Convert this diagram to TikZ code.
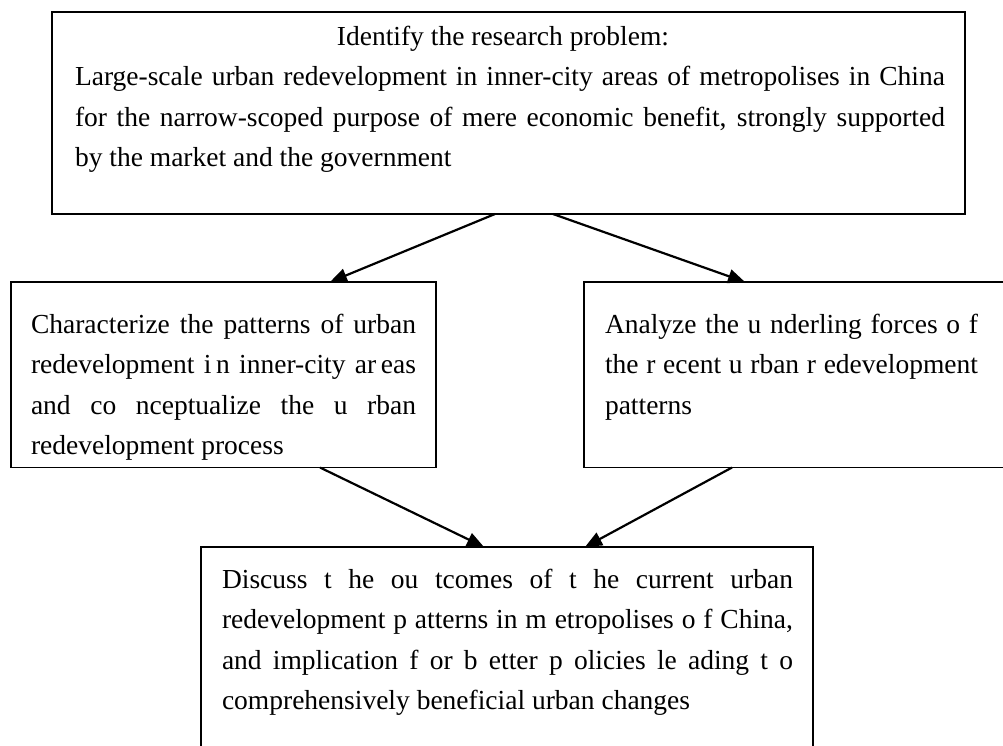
\documentclass[tikz,border=0pt]{standalone}
\usepackage{fontspec}
\setmainfont{Liberation Serif}
\usetikzlibrary{arrows.meta}
\begin{document}
\begin{tikzpicture}[x=1pt,y=-1pt,
  frame/.style={draw, line width=1.8pt, inner sep=0pt, outer sep=0pt, anchor=north west},
  txt/.style={anchor=north west, inner sep=0pt, outer sep=0pt, align=justify,
    font=\fontsize{27.5pt}{40.5pt}\selectfont},
  arr/.style={line width=2.2pt, -{Triangle[length=17pt,width=14pt]}}]
\useasboundingbox (0,0) rectangle (1003,745);
\clip (0,0) rectangle (1003,745);
% boxes
\node[frame, minimum width=913pt, minimum height=202pt] (top) at (52,12) {};
\node[frame, minimum width=425pt, minimum height=185.5pt] (left) at (11,282) {};
\node[frame, minimum width=440pt, minimum height=185.5pt] (right) at (584,282) {};
\node[frame, minimum width=612pt, minimum height=230pt] (bot) at (201,547) {};
% texts
\node[txt, text width=870pt] (toptext) at (75,15)
  {\rule{0pt}{30pt}\hspace*{\fill}Identify the research problem:\hspace*{\fill}\hspace*{14pt}\\
   Large-scale urban redevelopment in inner-city areas of metropolises in China\linebreak
   for the narrow-scoped purpose of mere economic benefit, strongly supported\linebreak
   by the market and the government};
\node[txt, text width=385pt] (lefttext) at (31,303)
  {\rule{0pt}{30pt}Characterize the patterns of urban\linebreak
   redevelopment i\,n inner-city ar\,eas\linebreak
   and co nceptualize the u rban\linebreak
   redevelopment process};
\node[txt, text width=373pt] (righttext) at (605,303)
  {\rule{0pt}{30pt}Analyze the u nderling forces o f\linebreak
   the r ecent u rban r edevelopment\linebreak
   patterns};
\node[txt, text width=571pt] (bottext) at (222,558)
  {\rule{0pt}{30pt}Discuss t he ou tcomes of t he current urban\linebreak
   redevelopment p atterns in m etropolises o f China,\linebreak
   and implication f or b etter p olicies le ading t o\linebreak
   comprehensively beneficial urban changes};
% connectors
\draw[arr] ([xshift=443pt]top.south west) -- ([xshift=319pt]left.north west);
\draw[arr] ([xshift=501pt]top.south west) -- ([xshift=161pt]right.north west);
\draw[arr] ([xshift=309pt]left.south west) -- ([xshift=283pt]bot.north west);
\draw[arr] ([xshift=148pt]right.south west) -- ([xshift=384pt]bot.north west);
\end{tikzpicture}
\end{document}
